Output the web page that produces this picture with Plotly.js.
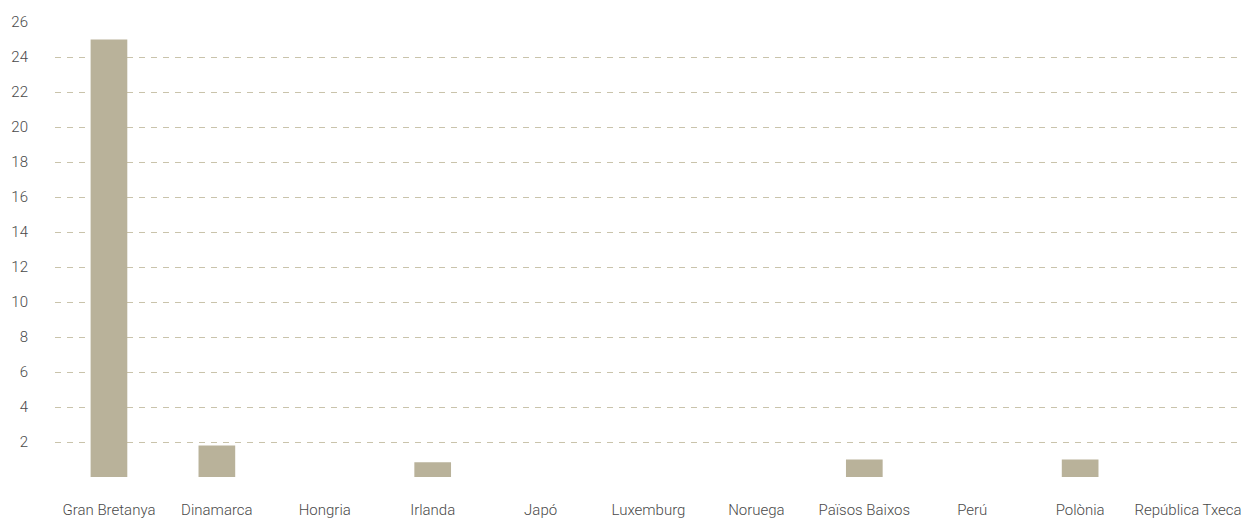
<!DOCTYPE html>
<html>
<head>
<meta charset="utf-8">
<script src="https://cdn.plot.ly/plotly-3.0.1.min.js"></script>
<style>
html,body{margin:0;padding:0;background:#fff;}
#chart{width:1248px;height:522px;}
</style>
</head>
<body>
<div id="chart"></div>
<script>
const categories = ["Gran Bretanya","Dinamarca","Hongria","Irlanda","Japó","Luxemburg","Noruega","Països Baixos","Perú","Polònia","República Txeca"];
const values = [25, 1.8, 0, 0.85, 0, 0, 0, 1.0, 0, 1.0, 0];
const yTickVals = [0,2,4,6,8,10,12,14,16,18,20,22,24,26];
const yTickText = ["","2","4","6","8","10","12","14","16","18","20","22","24","26"];

const fontFam = 'Roboto, "Noto Sans", sans-serif';
const tickFont = {family: fontFam, size: 15, color: '#4a4a4a', weight: 300};
Plotly.newPlot('chart', [{
  type: 'bar',
  x: categories,
  y: values,
  marker: {color: '#b9b29a'},
  hoverinfo: 'x+y'
}], {
  width: 1248, height: 522,
  margin: {l: 55, r: 6, t: 22, b: 45},
  paper_bgcolor: '#fff', plot_bgcolor: '#fff',
  bargap: 0.66,
  showlegend: false,
  font: {family: fontFam, size: 15, color: '#4a4a4a'},
  xaxis: {
    showgrid: false, zeroline: false, showline: false, ticks: '',
    ticklabelstandoff: 22,
    tickfont: tickFont
  },
  yaxis: {
    range: [0, 26],
    tickvals: yTickVals, ticktext: yTickText,
    showgrid: true, gridcolor: '#c9c3ab', gridwidth: 1, griddash: '6px,6px',
    zeroline: false, showline: false, ticks: '',
    ticklabelstandoff: 26,
    tickfont: tickFont
  }
}, {displayModeBar: false, staticPlot: true});
</script>
</body>
</html>
